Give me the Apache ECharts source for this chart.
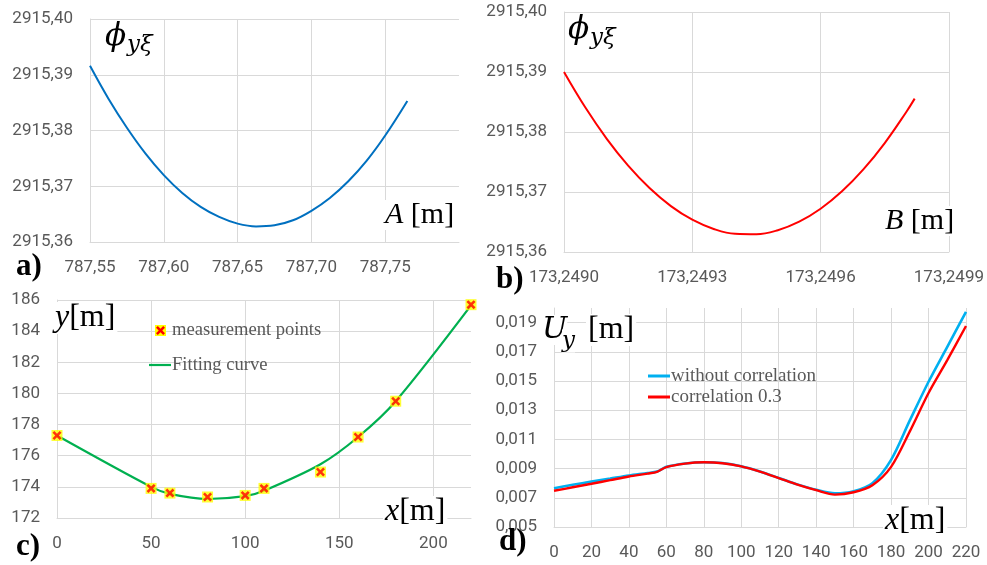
<!DOCTYPE html>
<html>
<head>
<meta charset="utf-8">
<script src="https://cdn.jsdelivr.net/npm/echarts@6.0.0/dist/echarts.min.js"></script>
<style>
  html, body { margin: 0; padding: 0; background: #fff; }
  #chart { width: 987px; height: 565px; }
</style>
</head>
<body>
<div id="chart"></div>
<script>
// a) objective vs A
let aX = [787.55, 787.5625, 787.575, 787.5875, 787.60, 787.6125, 787.625, 787.6375, 787.65, 787.6625,
  787.675, 787.6875, 787.70, 787.7125, 787.725, 787.7375, 787.75, 787.765];
let aY = [2915.3916, 2915.3857, 2915.3805, 2915.3759, 2915.3720, 2915.3688, 2915.3663, 2915.3645, 2915.3633, 2915.3628,
  2915.3630, 2915.3639, 2915.3656, 2915.3679, 2915.3709, 2915.3746, 2915.3791, 2915.3853];
let aTicks = [787.55, 787.60, 787.65, 787.70, 787.75];

// b) objective vs B
let bX = [173.24900, 173.24905, 173.24910, 173.24915, 173.24920, 173.24925, 173.24930, 173.24935, 173.24940,
  173.24945, 173.24950, 173.24955, 173.24960, 173.24965, 173.24970, 173.24975, 173.24980, 173.24982];
let bY = [2915.39000, 2915.38407, 2915.37886, 2915.37439, 2915.37066, 2915.36765, 2915.36538, 2915.36384, 2915.36303,
  2915.36296, 2915.36363, 2915.36505, 2915.36721, 2915.37011, 2915.37376, 2915.37816, 2915.38330, 2915.38556];
let bTicks = [173.2490, 173.2493, 173.2496, 173.2499];

// c) measurement points + fitting curve
let cX = [0, 50, 60, 80, 100, 110, 140, 160, 180, 220];
let cMeas = [177.3, 173.9, 173.6, 173.35, 173.45, 173.9, 174.95, 177.2, 179.5, 185.7];
let cFit = [177.3, 174.0, 173.55, 173.22, 173.4, 173.75, 175.45, 177.2, 179.5, 185.65];
let cTicks = [0, 50, 100, 150, 200];

// d) uncertainty
let dX = [0, 10, 20, 30, 40, 50, 55, 60, 70, 80, 90, 100, 110, 120, 130, 140, 150, 160, 170, 180, 190, 200, 210, 220];
let dNoCorr = [0.00766, 0.00789, 0.00811, 0.00832, 0.00853, 0.00870, 0.00880, 0.00912, 0.00935, 0.00944, 0.00938, 0.00916, 0.00880, 0.00836, 0.00792, 0.00755, 0.00731, 0.00745, 0.00800, 0.00960, 0.01230, 0.01495, 0.01734, 0.01973];
let dCorr = [0.00748, 0.00772, 0.00796, 0.00821, 0.00846, 0.00866, 0.00878, 0.00910, 0.00934, 0.00943, 0.00937, 0.00915, 0.00879, 0.00835, 0.00790, 0.00752, 0.00722, 0.00738, 0.00786, 0.00912, 0.01155, 0.01418, 0.01643, 0.01877];
let dTicks = [0.005, 0.007, 0.009, 0.011, 0.013, 0.015, 0.017, 0.019];

let d = document;
let chart = echarts.init(d.getElementById('chart'), null, { renderer: 'canvas' });

let serif = '"Liberation Serif", "Times New Roman", serif';
let math = '"DejaVu Serif", "Liberation Serif", serif';
let sans = 'Roboto, "Open Sans", sans-serif';
let grey = '#595959';

function fmt(n) {
  return (v) => Number(v).toFixed(n).replace('.', ',');
}

function axis(grid, min, max, dec, extra) {
  let a = {
    type: 'value', gridIndex: grid, min: min, max: max,
    axisLine: { show: true, onZero: false, lineStyle: { color: '#D9D9D9', width: 1 } },
    axisTick: { show: false },
    splitLine: { show: true, lineStyle: { color: '#D9D9D9', width: 1 } },
    axisLabel: { color: grey, fontFamily: sans, fontSize: 17, margin: 17, formatter: fmt(dec) }
  };
  if (extra.interval) a.interval = extra.interval;
  if (extra.ticks) {
    a.axisTick.customValues = extra.ticks;
    a.axisLabel.customValues = extra.ticks;
  }
  return a;
}

function pairs(xs, ys) {
  return xs.map((x, i) => [x, ys[i]]);
}

function txt(x, y, text, size, opts) {
  let o = opts || {};
  return {
    type: 'text', x: x, y: y, z: 10,
    style: Object.assign({
      text: text, fill: o.fill || '#000',
      fontSize: size, fontFamily: o.font || serif,
      fontStyle: o.italic ? 'italic' : 'normal',
      fontWeight: o.bold ? 'bold' : 'normal',
      align: 'left', verticalAlign: 'middle',
      textAlign: 'left', textVerticalAlign: 'middle'
    }, o.style || {})
  };
}

// axis names like "A [m]" with italic letter and white box behind
function nameTxt(x, y, letter, rest, size) {
  return txt(x, y, '{i|' + letter + '}{r|' + rest + '}', size, {
    style: {
      backgroundColor: '#fff', padding: [0, 2],
      rich: {
        i: { fontSize: size, fontFamily: serif, fontStyle: 'italic', fill: '#000' },
        r: { fontSize: size, fontFamily: serif, fill: '#000' }
      }
    }
  });
}

let xPath = 'path://M0,2 L2,0 L5,3 L8,0 L10,2 L7,5 L10,8 L8,10 L5,7 L2,10 L0,8 L3,5 Z';
// same cross as a polygon for the hand-made legend
let xPoly = [[0, 2], [2, 0], [5, 3], [8, 0], [10, 2], [7, 5], [10, 8], [8, 10], [5, 7], [2, 10], [0, 8], [3, 5]];

let white = { backgroundColor: '#fff' };

let option = {
  animation: false,
  backgroundColor: '#fff',
  grid: [
    { left: 90, top: 19, width: 369, height: 223 },
    { left: 564, top: 12, width: 388, height: 240 },
    { left: 57, top: 300, width: 414, height: 218 },
    { left: 554, top: 308, width: 412, height: 219 }
  ],
  xAxis: [
    axis(0, 787.55, 787.80, 2, { ticks: aTicks }),
    axis(1, 173.2490, 173.2499, 4, { ticks: bTicks }),
    axis(2, 0, 220, 0, { ticks: cTicks }),
    axis(3, 0, 220, 0, { interval: 20 })
  ],
  yAxis: [
    axis(0, 2915.36, 2915.40, 2, { interval: 0.01 }),
    axis(1, 2915.36, 2915.40, 2, { interval: 0.01 }),
    axis(2, 172, 186, 0, { interval: 2 }),
    axis(3, 0.005, 0.020, 3, { ticks: dTicks })
  ],
  series: [
    {
      type: 'line', xAxisIndex: 0, yAxisIndex: 0, data: pairs(aX, aY),
      smooth: 0.4, symbol: 'none', lineStyle: { color: '#0070C0', width: 2 }
    },
    {
      type: 'line', xAxisIndex: 1, yAxisIndex: 1, data: pairs(bX, bY),
      smooth: 0.4, symbol: 'none', lineStyle: { color: '#FF0000', width: 2 }
    },
    {
      name: 'Fitting curve', type: 'line', xAxisIndex: 2, yAxisIndex: 2, data: pairs(cX, cFit),
      smooth: 0.3, symbol: 'none', lineStyle: { color: '#00B050', width: 2.2 }
    },
    {
      type: 'scatter', xAxisIndex: 2, yAxisIndex: 2, data: pairs(cX, cMeas),
      symbol: 'rect', symbolSize: 11, itemStyle: { color: '#FFFF00' }, z: 3
    },
    {
      name: 'measurement points', type: 'scatter', xAxisIndex: 2, yAxisIndex: 2, data: pairs(cX, cMeas),
      symbol: xPath, symbolSize: 9, itemStyle: { color: '#FF0000' }, z: 4
    },
    {
      name: 'without correlation', type: 'line', xAxisIndex: 3, yAxisIndex: 3, data: pairs(dX, dNoCorr),
      smooth: 0.3, symbol: 'none', lineStyle: { color: '#00B0F0', width: 2.6 }
    },
    {
      name: 'correlation 0.3', type: 'line', xAxisIndex: 3, yAxisIndex: 3, data: pairs(dX, dCorr),
      smooth: 0.3, symbol: 'none', lineStyle: { color: '#FF0000', width: 2.4 }
    }
  ],
  graphic: [
    // panel a
    txt(105, 37, 'ϕ', 31, { italic: true, font: math }),
    txt(127, 45, 'yξ', 23, { italic: true, font: math }),
    nameTxt(383, 215, 'A', ' [m]', 30),
    txt(16, 267, 'a)', 31, { bold: true }),
    // panel b
    txt(568, 30, 'ϕ', 31, { italic: true, font: math }),
    txt(590, 38, 'yξ', 23, { italic: true, font: math }),
    nameTxt(883, 221, 'B', ' [m]', 30),
    txt(496, 280, 'b)', 31, { bold: true }),
    // panel c
    nameTxt(53, 318, 'y', '[m]', 32),
    nameTxt(383, 512, 'x', '[m]', 32),
    txt(16, 547, 'c)', 31, { bold: true }),
    { type: 'rect', shape: { x: 155, y: 325, width: 11, height: 11 }, style: { fill: '#FFFF00' }, z: 10 },
    { type: 'polygon', x: 156, y: 326, scaleX: 0.9, scaleY: 0.9, shape: { points: xPoly }, style: { fill: '#FF0000' }, z: 11 },
    txt(172, 330, 'measurement points', 18.6, { fill: grey }),
    { type: 'line', shape: { x1: 149, y1: 365, x2: 171, y2: 365 }, style: { stroke: '#00B050', lineWidth: 2.2 }, z: 10 },
    txt(172, 365, 'Fitting curve', 18.6, { fill: grey }),
    // panel d
    txt(542, 330, 'U', 30, { italic: true, font: math, style: white }),
    txt(562, 341, 'y', 23, { italic: true, font: math, style: white }),
    txt(586, 330, '[m]', 32, { style: { backgroundColor: '#fff', padding: [0, 2] } }),
    nameTxt(883, 521, 'x', '[m]', 32),
    txt(499, 542, 'd)', 31, { bold: true }),
    { type: 'line', shape: { x1: 648, y1: 376, x2: 670, y2: 376 }, style: { stroke: '#00B0F0', lineWidth: 3 }, z: 10 },
    txt(671, 376, 'without correlation', 19, { fill: grey }),
    { type: 'line', shape: { x1: 648, y1: 397, x2: 670, y2: 397 }, style: { stroke: '#FF0000', lineWidth: 3 }, z: 10 },
    txt(671, 397, 'correlation 0.3', 19, { fill: grey })
  ]
};

chart.setOption(option);
</script>
</body>
</html>
